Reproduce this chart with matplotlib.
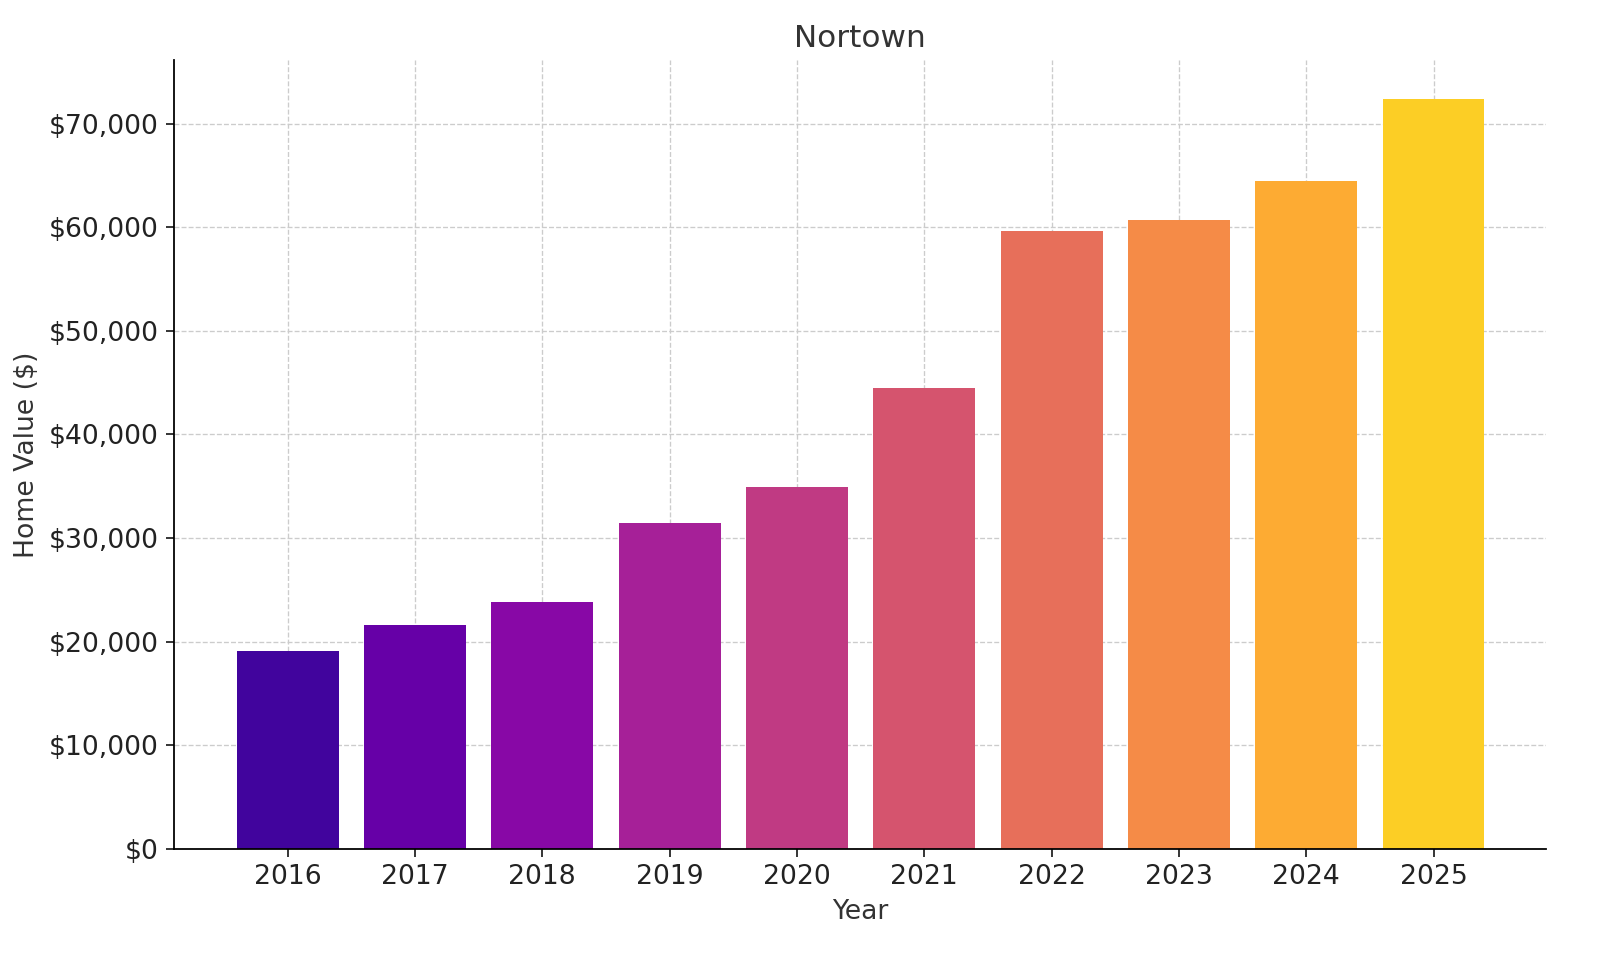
import matplotlib
matplotlib.use("Agg")
import matplotlib.pyplot as plt
import numpy as np
from matplotlib.ticker import FuncFormatter

years = [2016, 2017, 2018, 2019, 2020, 2021, 2022, 2023, 2024, 2025]
values = [19100, 21600, 23800, 31400, 34900, 44500, 59600, 60700, 64500, 72400]

fig = plt.figure(figsize=(10, 6), dpi=160)
ax = fig.add_axes([0.109, 0.116, 0.857, 0.821])
colors = plt.cm.plasma(np.linspace(0.1, 0.9, len(years)))
ax.bar([str(y) for y in years], values, color=colors, width=0.8, zorder=2)
ax.set_xlim(-0.89, 9.88)
ax.set_ylim(0, 76100)
ax.set_yticks(range(0, 70001, 10000))
ax.yaxis.set_major_formatter(FuncFormatter(lambda v, p: f"${v:,.0f}"))
ax.grid(True, linestyle="--", color="#cccccc", linewidth=0.6, zorder=0)
for s in ["top", "right"]:
    ax.spines[s].set_visible(False)
ax.tick_params(labelsize=12, colors="#222222")
ax.set_title("Nortown", fontsize=14, color="#333333")
ax.set_xlabel("Year", fontsize=12, color="#333333")
ax.set_ylabel("Home Value ($)", fontsize=12, color="#333333")
fig.savefig("out.png", dpi=160)
